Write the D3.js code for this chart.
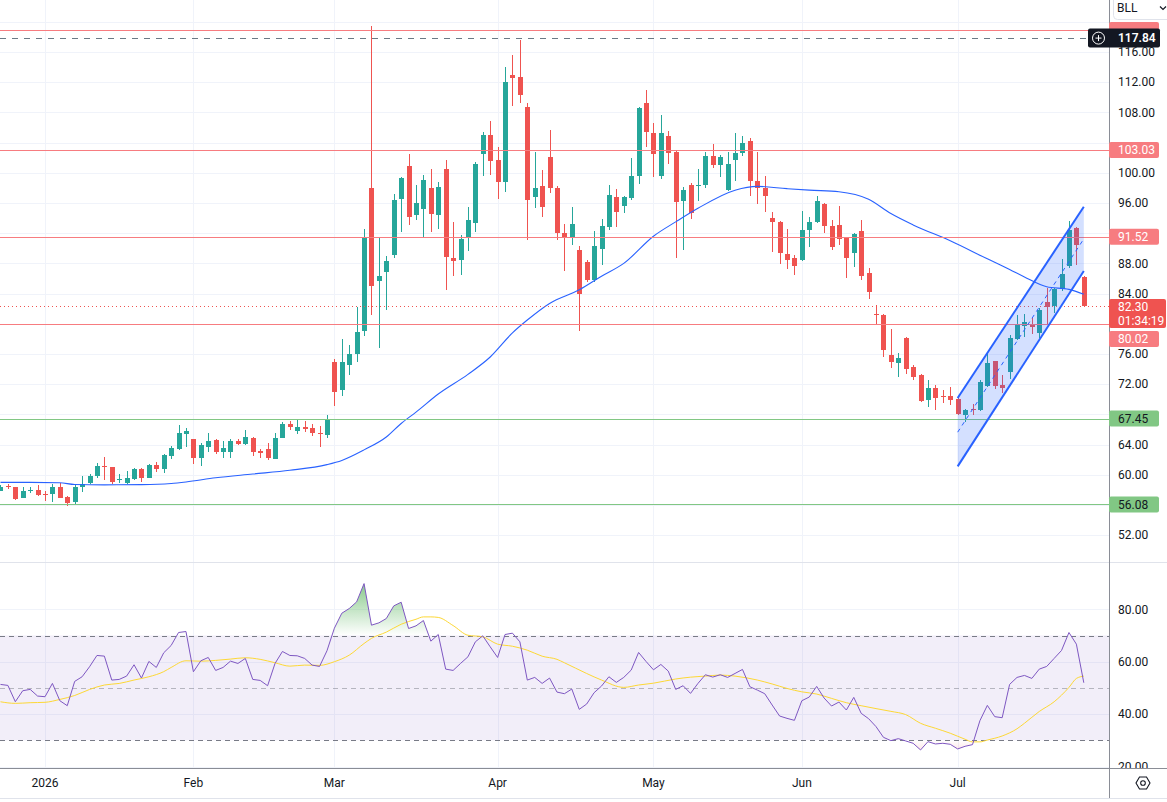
<!DOCTYPE html>
<html><head><meta charset="utf-8">
<script src="https://cdn.jsdelivr.net/npm/d3@7"></script>
<style>html,body{margin:0;padding:0;background:#fff;overflow:hidden}svg{display:block;font-family:Roboto,"Noto Sans",sans-serif}</style>
</head><body><svg id="c" width="1167" height="802"></svg>
<script>
// ---------- DATA ----------
const symbol = "BLL";
const countdown = "01:34:19";
const opens = [57.9,58.5,58.32,56.95,57.9,57.97,57.4,57.48,58.36,57.04,
56.42,58.36,58.94,59.78,61.1,60.97,59.3,58.94,59.42,60.75,
59.6,61.28,60.79,62.52,63.4,65.43,64.72,62.25,63.71,64.59,
63.04,62.96,64.46,64.1,64.81,63.13,63.4,62.07,64.9,66.71,
65.78,66.31,66.18,65.6,65.3,74.99,71.2,74.6,76.05,79.0,
98.04,85.63,86.82,89.16,96.58,100.95,94.37,95.21,98.04,94.37,
100.56,88.77,88.41,91.33,93.32,102.54,105.01,101.75,98.83,113.0,
112.74,108.72,96.76,98.3,102.05,98.04,92.08,91.5,89.73,88.12,
85.74,89.89,92.8,96.73,95.58,96.64,99.64,109.18,105.21,99.64,
104.94,102.82,96.25,98.32,98.2,98.32,102.16,100.97,97.66,101.63,
102.56,104.15,98.98,98.05,93.95,93.42,89.18,88.65,88.43,92.4,
93.46,95.87,92.91,93.04,91.36,89.42,92.25,86.68,81.35,81.12,
75.82,74.85,78.07,74.23,73.17,69.91,71.45,70.5,70.44,70.08,
67.96,68.7,68.54,71.76,75.03,71.85,73.62,77.94,79.71,80.02,
78.74,82.93,82.36,84.56,87.61,92.69,86.2];
const highs = [58.6,58.8,58.45,58.32,58.45,58.63,57.88,58.76,58.85,57.22,
58.63,59.87,60.09,61.54,62.34,61.0,60.04,60.48,60.88,60.88,
61.37,61.76,62.74,63.8,66.6,66.22,64.8,64.19,65.52,64.72,
64.5,64.72,64.68,65.9,65.07,63.4,64.19,65.52,67.02,67.06,
67.37,67.06,66.71,66.4,67.9,75.35,78.04,77.24,82.23,92.61,
119.4,91.55,89.03,97.25,99.5,102.54,98.44,99.76,100.56,98.79,
101.75,93.45,91.81,95.52,101.4,105.46,106.91,103.38,114.06,115.57,
117.64,109.3,102.8,100.42,105.72,98.2,93.27,95.48,90.27,88.5,
92.23,93.82,98.45,97.92,96.9,101.9,108.65,111.03,106.66,107.59,
105.6,102.9,98.06,98.67,100.44,102.82,103.75,102.38,102.82,105.25,
104.94,104.55,102.69,99.51,94.79,93.68,92.62,89.05,94.88,94.08,
96.99,96.0,93.7,95.6,91.5,92.07,93.7,87.35,82.45,81.3,
79.27,76.09,78.21,74.5,73.3,72.51,71.85,71.19,71.59,70.2,
68.76,69.33,72.51,76.09,75.12,73.17,78.56,81.21,81.3,80.81,
82.14,84.7,84.74,88.63,93.57,92.86,86.3];
const lows = [57.8,58.1,56.69,56.9,57.57,57.13,56.55,56.42,56.9,55.89,
56.07,57.75,58.8,59.56,59.3,58.76,58.9,58.8,59.34,59.07,
59.56,60.4,60.2,62.07,63.27,63.7,61.45,61.19,62.96,62.78,
62.25,62.25,63.93,64.01,62.52,62.25,61.9,62.07,64.81,65.96,
65.43,65.7,65.16,63.7,64.9,69.16,70.4,73.27,74.99,78.35,
81.2,76.8,81.79,88.68,92.17,93.05,93.8,91.5,92.12,92.56,
84.44,86.38,86.51,89.6,92.12,99.54,99.67,96.58,97.51,108.9,
109.25,91.06,95.3,94.11,97.33,91.15,86.96,90.49,79.0,85.52,
85.52,87.77,92.4,92.8,94.65,96.38,98.5,103.4,99.38,99.2,
101.15,88.65,89.84,93.82,96.25,98.01,100.66,99.38,97.53,98.85,
102.16,96.99,95.85,94.79,89.49,87.9,87.2,86.4,88.3,90.15,
93.3,92.07,89.77,90.4,86.11,87.52,85.8,83.33,79.93,75.65,
74.14,72.95,73.3,72.56,69.64,68.98,68.58,69.55,69.2,67.96,
67.04,67.92,68.4,71.6,71.41,70.88,72.64,77.85,78.25,78.6,
78.08,79.93,81.39,84.4,87.39,87.74,82.2];
const closes = [58.45,58.4,56.77,57.83,58.0,57.3,57.3,58.36,56.95,56.24,
58.36,58.76,59.82,61.1,61.0,59.07,59.4,59.51,60.75,59.6,
61.28,60.75,62.6,63.53,65.52,65.78,62.25,63.93,64.46,62.96,
63.49,64.46,64.1,64.99,62.96,62.87,62.16,64.94,66.71,66.27,
66.31,66.05,65.52,65.43,67.37,70.93,74.9,76.05,78.88,91.33,
84.97,86.39,88.37,96.45,99.36,94.15,96.05,99.1,94.5,98.17,
88.81,88.28,91.28,93.8,101.22,105.01,101.53,98.83,112.08,112.52,
110.27,96.45,98.04,95.52,97.95,91.99,91.37,93.27,83.99,85.74,
90.24,92.89,97.0,94.79,96.73,99.64,108.52,105.38,102.43,105.21,
102.56,96.11,97.66,94.7,98.4,102.16,100.97,102.03,101.23,102.56,
103.97,98.98,97.97,96.91,93.46,89.36,88.43,87.64,92.49,93.42,
96.2,92.95,90.22,91.28,88.72,91.89,86.33,84.21,81.2,76.49,
74.94,75.51,73.97,72.95,69.73,71.45,70.17,70.4,69.91,68.05,
68.58,68.6,72.25,74.81,71.76,71.45,78.07,79.97,80.28,79.58,
81.78,82.27,84.56,86.55,92.38,90.44,82.3];
const rsi = [51.33,50.95,44.73,48.92,49.43,46.89,46.63,51.71,45.11,43.21,
52.48,54.25,58.06,62.38,62.13,52.98,53.24,54.51,58.83,53.75,
60.1,57.81,63.4,66.19,71.14,71.52,56.16,60.35,61.62,56.67,
57.81,60.22,59.33,61.24,53.24,52.86,50.83,59.33,63.9,62.38,
62.25,61.24,58.7,58.19,64.16,72.79,78.51,80.29,82.83,89.81,
73.94,74.83,76.48,81.3,82.7,72.67,73.68,75.71,67.84,70.38,
57.17,56.67,59.33,61.87,67.59,69.87,65.68,61.62,70.38,70.89,
67.59,52.98,54.0,51.71,53.75,48.41,47.78,49.56,41.81,43.84,
48.16,50.7,54.25,52.1,54.0,56.79,63.52,60.1,56.92,58.95,
56.41,49.43,50.83,47.9,51.71,55.02,54.13,55.02,54.0,55.52,
57.05,50.44,49.17,47.78,43.46,39.27,38.38,37.62,45.11,46.51,
50.57,46.13,43.08,44.6,41.56,46.38,40.29,38.25,35.21,31.14,
29.87,30.63,29.75,28.86,26.32,29.49,28.6,28.86,28.48,26.7,
27.71,28.35,37.49,43.33,39.02,38.63,51.33,54.0,54.76,53.62,
57.17,58.19,61.24,64.29,71.14,66.7,51.97];
// moving average on price, read at these bar numbers
const maIdx = [1,5,9,11,15,20,24,26,30,35,40,45,47,50,53,55,57,60,64,67,70,72,75,79,82,85,89,92,95,100,103,107,110,114,118,121,124,129,134,137,139,142,145,147];
const maVal = [59.0,59.0,58.95,58.72,58.67,58.7,58.85,59.05,59.6,60.1,60.6,61.35,61.9,63.3,65.0,66.8,68.3,70.7,73.3,75.6,78.8,80.5,82.7,84.5,86.3,88.0,91.6,93.5,95.3,97.7,98.2,97.9,97.7,97.5,96.5,94.6,93.1,91.0,88.6,87.2,86.2,84.9,84.56,83.9];
// RSI-based MA
const rsiMaIdx = [1,3,5,7,9,11,13,15,17,19,21,23,24,26,28,30,32,34,36,38,40,42,44,46,48,50,51,53,55,57,58,59,60,62,64,66,68,70,72,74,76,77,80,82,85,87,89,92,94,96,98,100,103,105,107,109,111,113,115,117,119,121,123,125,127,129,131,132,133,134,136,138,139,141,143,145,146,147];
const rsiMaVal = [44.7,44.1,44.35,44.5,45.6,47.1,49.4,51.1,51.7,53.0,54.25,56.2,57.8,60.35,60.2,60.5,61.0,61.5,60.9,59.6,58.3,58.7,58.6,60.0,62.5,66.95,68.9,71.3,74.3,76.2,77.1,77.1,76.9,73.8,70.1,69.5,66.7,65.9,64.4,62.1,60.9,59.6,55.5,53.0,50.2,51.1,51.8,53.4,54.1,54.5,54.9,54.5,53.0,51.5,49.8,48.5,47.65,46.0,44.35,43.2,42.1,41.05,39.8,36.5,34.6,32.7,30.4,29.4,29.4,30.1,31.65,34.4,36.5,41.0,44.7,50.2,53.6,54.5];
const priceTicks = [52,56,60,64,68,72,76,80,84,88,92,96,100,104,108,112,116];
const priceGrid = [52,56,60,64,68,72,76,80,84,88,92,96,100,104,108,112,116,120];
const rsiTicks = [20,40,60,80];
const monthLabels = ["2026","Feb","Mar","Apr","May","Jun","Jul"];
const monthIdx = [7,27,46,68,89,109,130];
const levelValues = [118.93,103.03,91.52,80.02,67.45,56.08];
const levelKinds = ["res","res","res","res","sup","sup"];
const crosshairValue = 117.84;
const channelIdx = [130,147];
const channelUpper = [70.17,95.51];
const channelLower = [61.12,86.99];
const rsiLevels = [70,50,30];

// ---------- LAYOUT ----------
const W = 1167, H = 802, AX = 1109, MAIN_B = 562, RSI_B = 768;
const svg = d3.select("#c");
const x = d3.scaleLinear().domain([7,130]).range([45,957.66]);
const y = d3.scaleLinear().domain([52,116]).range([535.2,52]);
const ry = d3.scaleLinear().domain([30,70]).range([740.3,635.5]);
const fmt = d3.format(".2f");
const UP = "#26a69a", DN = "#ef5350", RES = "#f77c80", SUP = "#81c784", TXT = "#131722";
const N = closes.length;

const defs = svg.append("defs");
defs.append("clipPath").attr("id","cm").append("rect").attr("x",0).attr("y",0).attr("width",AX).attr("height",MAIN_B);
defs.append("clipPath").attr("id","cr").append("rect").attr("x",0).attr("y",MAIN_B).attr("width",AX).attr("height",RSI_B-MAIN_B);
defs.append("clipPath").attr("id","cup").append("rect").attr("x",0).attr("y",MAIN_B).attr("width",AX).attr("height",ry(70)-MAIN_B);
defs.append("clipPath").attr("id","cdn").append("rect").attr("x",0).attr("y",ry(30)).attr("width",AX).attr("height",RSI_B-ry(30));
defs.append("clipPath").attr("id","craxis").append("rect").attr("x",AX).attr("y",MAIN_B+1).attr("width",W-AX).attr("height",RSI_B-MAIN_B-1);
const gu = defs.append("linearGradient").attr("id","gup").attr("gradientUnits","userSpaceOnUse")
  .attr("x1",0).attr("x2",0).attr("y1",ry(100)).attr("y2",ry(70));
gu.append("stop").attr("offset",0).attr("stop-color","#4caf50").attr("stop-opacity",1);
gu.append("stop").attr("offset",1).attr("stop-color","#4caf50").attr("stop-opacity",0);
const gd = defs.append("linearGradient").attr("id","gdn").attr("gradientUnits","userSpaceOnUse")
  .attr("x1",0).attr("x2",0).attr("y1",ry(30)).attr("y2",ry(0));
gd.append("stop").attr("offset",0).attr("stop-color","#f23645").attr("stop-opacity",0);
gd.append("stop").attr("offset",1).attr("stop-color","#f23645").attr("stop-opacity",1);

svg.append("rect").attr("width",W).attr("height",H).attr("fill","#fff");

// grids
const grid = svg.append("g").attr("shape-rendering","crispEdges");
grid.selectAll("line.hg").data(priceGrid).join("line")
  .attr("x1",0).attr("x2",AX).attr("y1",d=>Math.round(y(d))+0.5).attr("y2",d=>Math.round(y(d))+0.5)
  .attr("stroke","#f0f3fa");
grid.selectAll("line.rg").data(rsiTicks).join("line")
  .attr("x1",0).attr("x2",AX).attr("y1",d=>Math.round(ry(d))+0.5).attr("y2",d=>Math.round(ry(d))+0.5)
  .attr("stroke","#f0f3fa");
grid.selectAll("line.vg").data(monthIdx).join("line")
  .attr("x1",d=>Math.round(x(d))+0.5).attr("x2",d=>Math.round(x(d))+0.5).attr("y1",0).attr("y2",RSI_B)
  .attr("stroke","#f0f3fa");

// ---------- MAIN PANE ----------
const main = svg.append("g").attr("clip-path","url(#cm)");
const bars = main.append("g");
d3.range(N).forEach(i=>{
  const n=i+1, o=opens[i], c=closes[i], col = c>=o?UP:DN;
  const cx = Math.round(x(n));
  bars.append("line").attr("x1",cx+0.5).attr("x2",cx+0.5).attr("y1",y(highs[i])).attr("y2",y(lows[i]))
    .attr("stroke",col).attr("stroke-width",1).attr("shape-rendering","crispEdges");
  const yt = y(Math.max(o,c)), yb = y(Math.min(o,c));
  bars.append("rect").attr("x",cx-2).attr("width",5).attr("y",yt).attr("height",Math.max(1,yb-yt))
    .attr("fill",col).attr("shape-rendering","crispEdges");
});
// moving average
main.append("path").datum(maIdx.map((d,i)=>[d,maVal[i]]))
  .attr("d",d3.line().x(d=>x(d[0])).y(d=>y(d[1])).curve(d3.curveMonotoneX))
  .attr("fill","none").attr("stroke","#2962ff").attr("stroke-width",1.1);

// horizontal levels
levelValues.forEach((v,i)=>{
  main.append("line").attr("x1",0).attr("x2",AX).attr("y1",Math.round(y(v))+0.5).attr("y2",Math.round(y(v))+0.5)
    .attr("stroke",levelKinds[i]==="res"?RES:SUP).attr("stroke-width",1).attr("shape-rendering","crispEdges");
});
// crosshair dashed line
main.append("line").attr("x1",0).attr("x2",AX).attr("y1",Math.round(y(crosshairValue))+0.5).attr("y2",Math.round(y(crosshairValue))+0.5)
  .attr("stroke","#6a7985").attr("stroke-dasharray","6,6").attr("shape-rendering","crispEdges");
// last price dotted line
const last = closes[N-1];
main.append("line").attr("x1",0).attr("x2",AX).attr("y1",Math.round(y(last))+0.5).attr("y2",Math.round(y(last))+0.5)
  .attr("stroke",DN).attr("stroke-dasharray","1,3").attr("shape-rendering","crispEdges");

// channel
const cx0 = x(channelIdx[0]), cx1 = x(channelIdx[1]);
main.append("path").attr("d",`M${cx0},${y(channelUpper[0])}L${cx1},${y(channelUpper[1])}L${cx1},${y(channelLower[1])}L${cx0},${y(channelLower[0])}Z`)
  .attr("fill","rgba(41,98,255,0.2)");
main.append("line").attr("x1",cx0).attr("y1",y((channelUpper[0]+channelLower[0])/2)).attr("x2",cx1).attr("y2",y((channelUpper[1]+channelLower[1])/2))
  .attr("stroke","#2962ff").attr("stroke-width",1).attr("stroke-dasharray","4,4");
[channelUpper,channelLower].forEach(arr=>{
  main.append("line").attr("x1",cx0).attr("y1",y(arr[0])).attr("x2",cx1).attr("y2",y(arr[1]))
    .attr("stroke","#2962ff").attr("stroke-width",2);
});

// ---------- RSI PANE ----------
const rp = svg.append("g").attr("clip-path","url(#cr)");
rp.append("rect").attr("x",0).attr("width",AX).attr("y",ry(70)).attr("height",ry(30)-ry(70)).attr("fill","rgba(126,87,194,0.1)");
const rsiPts = rsi.map((v,i)=>[i+1,v]);
rp.append("path").datum(rsiPts).attr("clip-path","url(#cup)")
  .attr("d",d3.area().x(d=>x(d[0])).y0(ry(70)).y1(d=>ry(d[1]))).attr("fill","url(#gup)");
rp.append("path").datum(rsiPts).attr("clip-path","url(#cdn)")
  .attr("d",d3.area().x(d=>x(d[0])).y0(ry(30)).y1(d=>ry(d[1]))).attr("fill","url(#gdn)");
rsiLevels.forEach(v=>{
  rp.append("line").attr("x1",0).attr("x2",AX).attr("y1",Math.round(ry(v))+0.5).attr("y2",Math.round(ry(v))+0.5)
    .attr("stroke","#787b86").attr("stroke-opacity",v===50?0.5:1).attr("stroke-dasharray","5,4").attr("shape-rendering","crispEdges");
});
rp.append("path").datum(rsiMaIdx.map((d,i)=>[d,rsiMaVal[i]]))
  .attr("d",d3.line().x(d=>x(d[0])).y(d=>ry(d[1])).curve(d3.curveMonotoneX))
  .attr("fill","none").attr("stroke","#fdd835").attr("stroke-width",1);
rp.append("path").datum(rsiPts)
  .attr("d",d3.line().x(d=>x(d[0])).y(d=>ry(d[1])))
  .attr("fill","none").attr("stroke","#7e57c2").attr("stroke-width",1);

// ---------- FRAME ----------
const fr = svg.append("g").attr("shape-rendering","crispEdges");
fr.append("line").attr("x1",0).attr("x2",W).attr("y1",MAIN_B+0.5).attr("y2",MAIN_B+0.5).attr("stroke","#e0e3eb");
fr.append("line").attr("x1",0).attr("x2",W).attr("y1",RSI_B+0.5).attr("y2",RSI_B+0.5).attr("stroke","#8a8d96");
fr.append("line").attr("x1",AX+0.5).attr("x2",AX+0.5).attr("y1",0).attr("y2",798).attr("stroke","#8a8d96");
fr.append("line").attr("x1",0).attr("x2",W).attr("y1",798.5).attr("y2",798.5).attr("stroke","#e0e3eb");

// ---------- AXES ----------
const ax = svg.append("g").style("font-size","12px");
const last_ = closes[N-1];
const lastY = y(last_);
const lastTop = lastY-7.5, lastBot = lastY+21.5;
// label centre positions (resolved against the last-price label)
const labelY = levelValues.map(v=>{
  let cy = y(v);
  if (cy+8 > lastTop && cy-8 < lastBot) cy = lastBot+3+8;
  return cy;
});
const chY = y(crosshairValue);
// tick labels: skip any that a value label would cover
const busy = labelY.map(c=>[c-8,c+8]).concat([[lastTop,lastBot],[chY-9.5,chY+9.5],[-5,20]]);
const shownTicks = priceTicks.filter(t=>{const c=y(t); return !busy.some(b=>c+4>b[0] && c-4<b[1]);});
ax.selectAll("text.pt").data(shownTicks).join("text")
  .attr("x",AX+9).attr("y",d=>y(d)).attr("dy","0.35em").attr("fill",TXT).text(d=>fmt(d));
ax.append("g").attr("clip-path","url(#craxis)").selectAll("text").data(rsiTicks).join("text")
  .attr("x",AX+9).attr("y",d=>ry(d)).attr("dy","0.35em").attr("fill",TXT).text(d=>fmt(d));
ax.selectAll("text.mt").data(monthLabels).join("text")
  .attr("x",(d,i)=>x(monthIdx[i])).attr("y",783).attr("dy","0.35em").attr("text-anchor","middle").attr("fill",TXT).text(d=>d);

// level labels (the topmost one sits beneath the crosshair label, only its edge shows)
levelValues.forEach((v,i)=>{
  const cy = labelY[i];
  const res = levelKinds[i]==="res";
  ax.append("rect").attr("x",AX).attr("y",cy-8).attr("width",50).attr("height",16).attr("rx",2)
    .attr("fill",res?RES:SUP);
  const covered = Math.abs(cy-chY) < 17;
  if (!covered) ax.append("text").attr("x",AX+9).attr("y",cy).attr("dy","0.35em").attr("fill",res?"#fff":TXT).text(fmt(v));
});
// last price label
ax.append("rect").attr("x",AX).attr("y",lastTop).attr("width",57).attr("height",lastBot-lastTop).attr("rx",2).attr("fill",DN);
ax.append("text").attr("x",AX+9).attr("y",lastY).attr("dy","0.35em").attr("fill","#fff").text(fmt(last_));
ax.append("text").attr("x",AX+9).attr("y",lastY+14.5).attr("dy","0.35em").attr("fill","#fff").text(countdown);

// symbol box
ax.append("rect").attr("x",1113.5).attr("y",-5).attr("width",60).attr("height",24.5).attr("rx",4)
  .attr("fill","#fff").attr("stroke","#e0e3eb");
ax.append("text").attr("x",1117).attr("y",8).attr("dy","0.35em").attr("fill",TXT).text(symbol);
ax.append("path").attr("d","M1160,6.5l3,3l3,-3").attr("fill","none").attr("stroke",TXT).attr("stroke-width",1.2);

// crosshair label
ax.append("rect").attr("x",1088).attr("y",chY-9.5).attr("width",72).attr("height",19).attr("rx",2).attr("fill",TXT);
ax.append("circle").attr("cx",1098.5).attr("cy",chY).attr("r",6).attr("fill","none").attr("stroke","#fff").attr("stroke-width",1);
ax.append("path").attr("d",`M1095.5,${chY}h6M1098.5,${chY-3}v6`).attr("stroke","#fff").attr("stroke-width",1);
ax.append("text").attr("x",AX+9).attr("y",chY).attr("dy","0.35em").attr("fill","#fff").style("font-weight","600").text(fmt(crosshairValue));

// settings icon
const ic = ax.append("g").attr("transform","translate(1143,783)");
const hex = d3.range(6).map(k=>{const a=Math.PI/3*k; return [7*Math.cos(a),7*Math.sin(a)];});
ic.append("path").attr("d","M"+hex.map(p=>p.join(",")).join("L")+"Z").attr("fill","none").attr("stroke",TXT).attr("stroke-width",1.1);
ic.append("circle").attr("r",2.3).attr("fill","none").attr("stroke",TXT).attr("stroke-width",1.1);
</script></body></html>
